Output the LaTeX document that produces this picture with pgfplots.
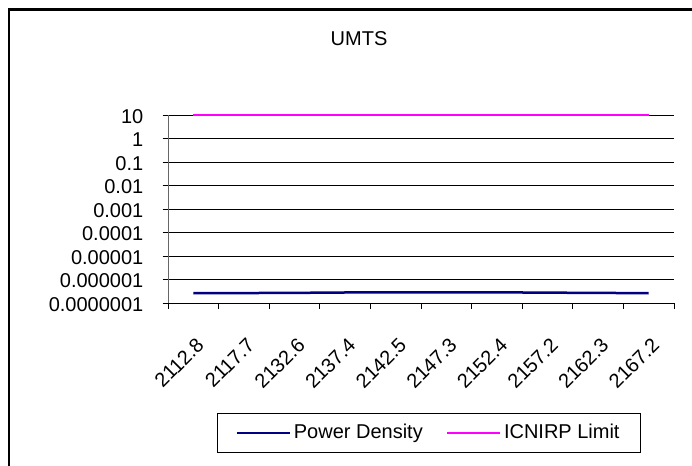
\documentclass[border=0pt]{standalone}
\usepackage{fontspec}
\setmainfont{Liberation Sans}
\usepackage{pgfplots}
\pgfplotsset{compat=1.18}
\definecolor{pdblue}{HTML}{000080}
\definecolor{icmag}{HTML}{FF00FF}
\begin{document}
\fontsize{20bp}{24bp}\selectfont
\begin{tikzpicture}
\useasboundingbox (0,0) rectangle (692bp,466bp);
\fill[white] (0,0) rectangle (692bp,466bp);
\draw[line width=2.5bp] (9bp,-10bp) -- (9bp,456.5bp) -- (720bp,456.5bp);
\begin{axis}[
  at={(168bp,163bp)}, anchor=south west,
  scale only axis, width=506bp, height=188bp,
  ymode=log, ymin=1e-7, ymax=10,
  xmin=-0.5, xmax=9.5,
  clip=false,
  axis lines*=left,
  x axis line style={black, line width=0.8bp},
  y axis line style={gray!80!black, line width=0.8bp},
  ymajorgrids,
  grid style={black, line width=0.8bp},
  tick align=outside,
  major tick length=5.5bp,
  yminorticks=false, xminorticks=false,
  every tick/.style={black, line width=0.8bp},
  ytick={1e-7,1e-6,1e-5,1e-4,1e-3,1e-2,1e-1,1,10},
  yticklabels={0.0000001,0.000001,0.00001,0.0001,0.001,0.01,0.1,1,10},
  yticklabel style={anchor=east, inner sep=0pt, xshift=-19bp, yshift=-1.5bp},
  xtick={-0.5,0.5,1.5,2.5,3.5,4.5,5.5,6.5,7.5,8.5,9.5},
  x tick label as interval,
  xticklabels={2112.8,2117.7,2132.6,2137.4,2142.5,2147.3,2152.4,2157.2,2162.3,2167.2},
  xticklabel style={xshift=7bp, yshift=-33bp, rotate=45, anchor=east, inner sep=0pt},
  /pgf/number format/assume math mode=true,
  title={UMTS},
  title style={at={(0.3775,1.372)}, anchor=center, inner sep=0pt},
  legend columns=2,
  legend style={at={(0.0968,-0.585)}, anchor=north west, draw=black, line width=0.8bp,
    inner xsep=18bp, inner ysep=9bp, nodes={inner xsep=3bp, inner ysep=2bp},
    /tikz/every even column/.append style={column sep=20bp}},
  legend image code/.code={\draw[#1] (0bp,0bp) -- (53bp,0bp);},
]
\addplot[pdblue, line width=2.5bp] coordinates {
  (0,2.6e-7) (1,2.65e-7) (2,2.7e-7) (3,2.8e-7) (4,2.8e-7)
  (5,2.85e-7) (6,2.85e-7) (7,2.75e-7) (8,2.7e-7) (9,2.6e-7)};
\addlegendentry{Power Density}
\addplot[icmag, line width=2.2bp] coordinates {
  (0,10) (1,10) (2,10) (3,10) (4,10) (5,10) (6,10) (7,10) (8,10) (9,10)};
\addlegendentry{ICNIRP Limit}
\end{axis}
\end{tikzpicture}
\end{document}
